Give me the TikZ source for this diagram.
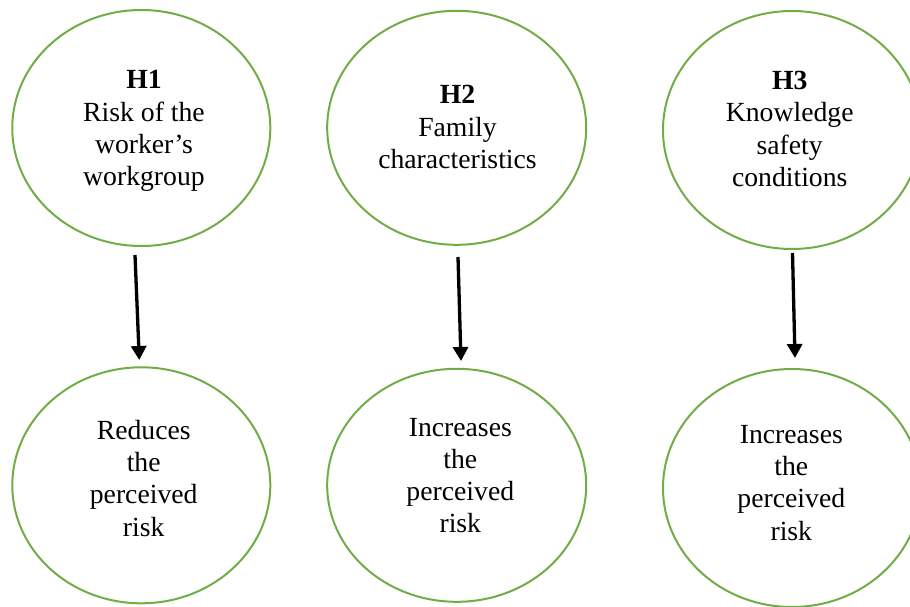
\documentclass[tikz,border=0pt]{standalone}
\usepackage{fontspec}
\setmainfont{Liberation Serif}
\usetikzlibrary{shapes.geometric,arrows.meta}
\definecolor{ogreen}{HTML}{70AD47}
\begin{document}
\begin{tikzpicture}[x=1pt,y=-1pt,
  oval/.style={draw=ogreen,line width=2pt,ellipse,inner sep=0pt,minimum width=258pt,minimum height=236pt},
  txt/.style={anchor=base,inner sep=0pt,font=\fontsize{27.7}{32.3}\selectfont},
  arr/.style={line width=3.3pt,-{Triangle[length=14pt,width=15pt]}}]
\useasboundingbox (0,0) rectangle (910,607);
\node[oval] (h1) at (141.3,128) {};
\node[oval,minimum width=259pt,minimum height=234pt] (h2) at (456.7,127.8) {};
\node[oval,minimum height=238pt] (h3) at (792,130) {};
\node[oval] (r1) at (141.3,485.3) {};
\node[oval,minimum width=259pt,minimum height=233pt] (r2) at (456.7,485.3) {};
\node[oval,minimum height=238pt] (r3) at (792,488) {};
\node[txt] (t1) at (144,89) {\begin{tabular}[t]{@{}c@{}}\textbf{H1}\\Risk of the\\worker’s\\workgroup\end{tabular}};
\node[txt] (t2) at (457.5,104) {\begin{tabular}[t]{@{}c@{}}\textbf{H2}\\Family\\characteristics\end{tabular}};
\node[txt] (t3) at (789.7,89.5) {\begin{tabular}[t]{@{}c@{}}\textbf{H3}\\Knowledge\\safety\\conditions\end{tabular}};
\node[txt] (t4) at (143.7,439.3) {\begin{tabular}[t]{@{}c@{}}Reduces\\the\\perceived\\risk\end{tabular}};
\node[txt] (t5) at (460.3,436) {\begin{tabular}[t]{@{}c@{}}Increases\\the\\perceived\\risk\end{tabular}};
\node[txt] (t6) at (791.3,443.3) {\begin{tabular}[t]{@{}c@{}}Increases\\the\\perceived\\risk\end{tabular}};
\coordinate (a1s) at (135,255);
\coordinate (a1e) at (139.3,360);
\coordinate (a2s) at (458,257);
\coordinate (a2e) at (461,361);
\coordinate (a3s) at (792.5,253);
\coordinate (a3e) at (795,358);
\draw[arr] (a1s) -- (a1e);
\draw[arr] (a2s) -- (a2e);
\draw[arr] (a3s) -- (a3e);
\end{tikzpicture}
\end{document}
